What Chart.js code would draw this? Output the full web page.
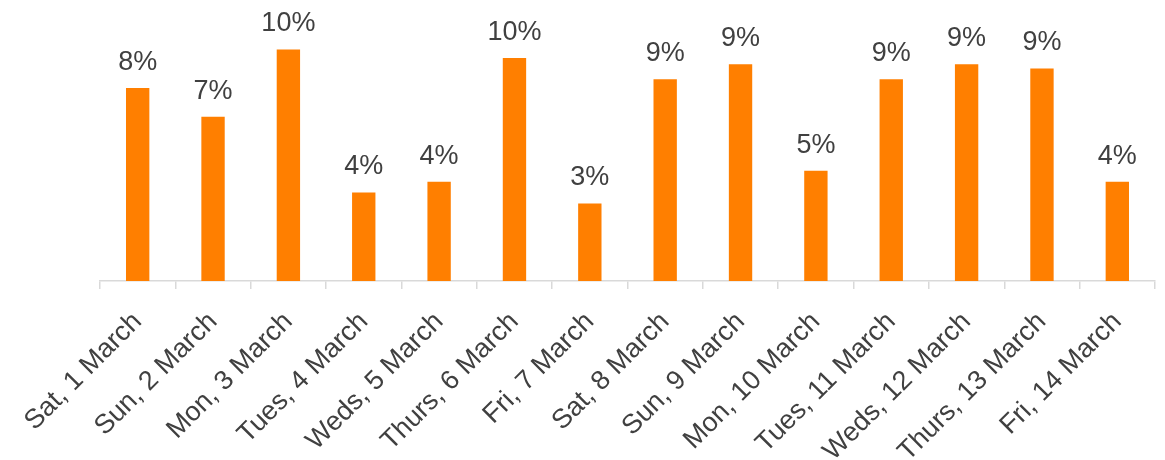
<!DOCTYPE html>
<html>
<head>
<meta charset="utf-8">
<script src="https://cdn.jsdelivr.net/npm/chart.js@4"></script>
<style>
  html, body { margin: 0; padding: 0; background: #ffffff; }
  #wrap { width: 1165px; height: 460px; position: relative; }
</style>
</head>
<body>
<div id="wrap"><canvas id="c"></canvas></div>
<script>
const categories = ["Sat, 1 March", "Sun, 2 March", "Mon, 3 March", "Tues, 4 March", "Weds, 5 March", "Thurs, 6 March", "Fri, 7 March", "Sat, 8 March", "Sun, 9 March", "Mon, 10 March", "Tues, 11 March", "Weds, 12 March", "Thurs, 13 March", "Fri, 14 March"];
const shares = [8.26, 7.03, 9.91, 3.79, 4.25, 9.55, 3.32, 8.63, 9.28, 4.72, 8.63, 9.28, 9.10, 4.25];

const FONT = "'Liberation Sans', Arial, sans-serif";
const TEXT = '#404040';

const valueLabels = {
  id: 'valueLabels',
  afterDatasetsDraw(chart) {
    const ctx = chart.ctx;
    const meta = chart.getDatasetMeta(0);
    ctx.save();
    ctx.font = '27px ' + FONT;
    ctx.fillStyle = TEXT;
    ctx.textAlign = 'center';
    ctx.textBaseline = 'alphabetic';
    meta.data.forEach((bar, i) => {
      ctx.fillText(Math.round(shares[i]) + '%', bar.x, bar.y - 18);
    });
    ctx.restore();
  }
};

new Chart(document.getElementById('c'), {
  type: 'bar',
  data: {
    labels: categories,
    datasets: [{
      data: shares,
      backgroundColor: '#FF7F00',
      borderWidth: 0,
      barPercentage: 0.62,
      categoryPercentage: 0.5
    }]
  },
  options: {
    responsive: true,
    maintainAspectRatio: false,
    animation: false,
    events: [],
    layout: { padding: { left: 100, right: 10, top: 24, bottom: 0 } },
    plugins: { legend: { display: false }, tooltip: { enabled: false } },
    scales: {
      x: {
        offset: true,
        border: { display: true, color: '#d9d9d9', width: 1.5 },
        grid: { offset: true, drawOnChartArea: false, drawTicks: true, tickLength: 8, color: '#d9d9d9', lineWidth: 1.5 },
        ticks: {
          autoSkip: false, maxRotation: 45, minRotation: 45,
          color: TEXT, font: { family: FONT, size: 27 }, padding: 17
        },
        afterFit(scale) { scale.height = 179; }
      },
      y: {
        display: false,
        min: 0,
        max: 11
      }
    }
  },
  plugins: [valueLabels]
});
</script>
</body>
</html>
